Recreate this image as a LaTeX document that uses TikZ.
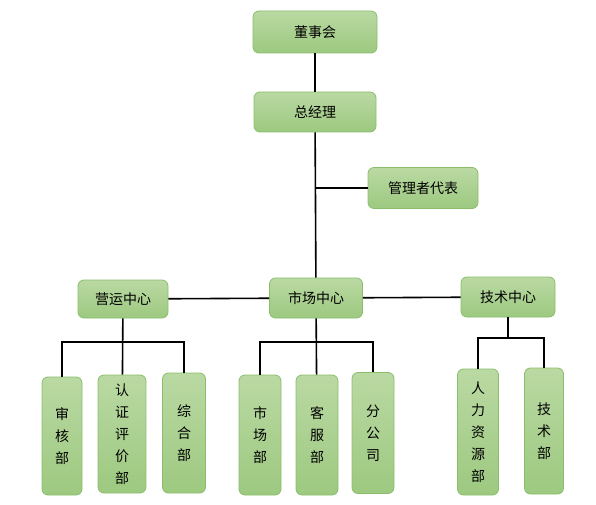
\documentclass[tikz,border=0pt]{standalone}
\usepackage{fontspec}
\setmainfont{Noto Sans CJK SC}
\usepackage{xcolor}
\usetikzlibrary{positioning,calc}
\definecolor{boxtop}{RGB}{186,217,163}
\definecolor{boxbottom}{RGB}{157,201,128}
\definecolor{boxline}{RGB}{138,190,107}

\begin{document}
\begin{tikzpicture}[
 x=1pt, y=-1pt,
 unit/.style={rectangle, draw=boxline, line width=0.8pt, top color=boxtop, bottom color=boxbottom, rounded corners=6pt, align=center, inner sep=0pt, font=\fontsize{14}{22}\selectfont},
 dept/.style={unit, minimum width=#1},
 leaf/.style={unit},
 link/.style={line width=1.6pt, color=black}
]
\useasboundingbox (0,0) rectangle (596,505);

% Top level
\node[dept=124pt, minimum height=42pt] (board) at (315,32) {董事会};
\node[dept=122pt, minimum height=40pt] (gm) at (315,112) {总经理};
\node[dept=110pt, minimum height=41pt] (rep) at (423,188) {管理者代表};

% Centres
\node[dept=90pt, minimum height=38pt] (ops) at (123,299) {营运中心};
\node[dept=93pt, minimum height=40pt] (mkt) at (316,298) {市场中心};
\node[dept=94pt, minimum height=40pt] (tech) at (508,297) {技术中心};

% Departments - ops
\node[leaf, minimum width=40pt, minimum height=118pt] (audit) at (62,436) {审\\核\\部};
\node[leaf, minimum width=48pt, minimum height=118pt] (cert) at (122,434) {认\\证\\评\\价\\部};
\node[leaf, minimum width=43pt, minimum height=120pt] (admin) at (184,433) {综\\合\\部};

% Departments - market
\node[leaf, minimum width=42pt, minimum height=120pt] (sales) at (260,435) {市\\场\\部};
\node[leaf, minimum width=42pt, minimum height=120pt] (service) at (317,435) {客\\服\\部};
\node[leaf, minimum width=42pt, minimum height=121pt] (branch) at (373,433) {分\\公\\司};

% Departments - tech
\node[leaf, minimum width=41pt, minimum height=126pt] (hr) at (478,432) {人\\力\\资\\源\\部};
\node[leaf, minimum width=39pt, minimum height=126pt] (rd) at (544,431) {技\\术\\部};

% Bus points
\coordinate (opsbus) at (123,342);
\coordinate (mktbus) at (316,342);
\coordinate (techbus) at (508,338);

% Links - top
\draw[link] (board) -- (gm);
\draw[link] (gm) -- (mkt);
\draw[link] (rep.west) -- (rep.west -| gm.south);
\draw[link] (ops) -- (mkt);
\draw[link] (mkt) -- (tech);

% Links - ops
\draw[link] (ops) -- (cert);
\draw[link] (audit.north) |- (opsbus) -| (admin.north);

% Links - market
\draw[link] (mkt) -- (service);
\draw[link] (sales.north) |- (mktbus) -| (branch.north);

% Links - tech
\draw[link] (tech.south) -- (techbus);
\draw[link] (hr.north) |- (techbus) -| (rd.north);

\end{tikzpicture}
\end{document}
